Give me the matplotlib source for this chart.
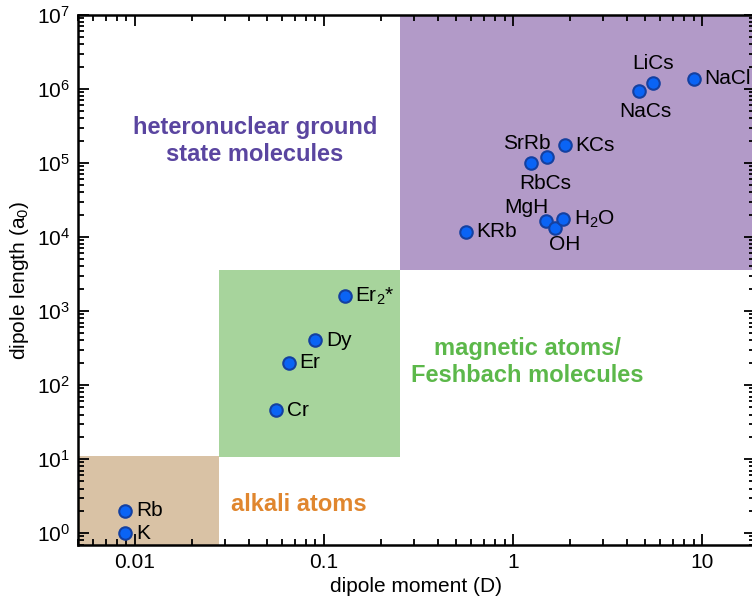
import numpy as np
import matplotlib
matplotlib.use("Agg")
import matplotlib.pyplot as plt
from matplotlib.patches import Rectangle

plt.rcParams['font.family'] = ['Liberation Sans', 'DejaVu Sans']
plt.rcParams['mathtext.fontset'] = 'custom'
plt.rcParams['mathtext.rm'] = 'Liberation Sans'
plt.rcParams['mathtext.it'] = 'Liberation Sans:italic'
plt.rcParams['mathtext.bf'] = 'Liberation Sans:bold'

# dados: momento de dipolo (D) e comprimento de dipolo (a0)
names = ['K', 'Rb', 'Cr', 'Er', 'Dy', 'Er$_2$*', 'KRb', 'MgH', 'OH', 'H$_2$O',
         'RbCs', 'SrRb', 'KCs', 'NaCs', 'LiCs', 'NaCl']
moment = [0.0089, 0.0089, 0.056, 0.065, 0.090, 0.129, 0.56, 1.50, 1.67, 1.84,
          1.25, 1.51, 1.88, 4.6, 5.5, 9.0]
length = [1.0, 2.0, 46, 200, 405, 1600, 11700, 16500, 13200, 17500,
          1.0e5, 1.2e5, 1.75e5, 9.4e5, 1.2e6, 1.37e6]

# regioes (x0, x1, y0, y1)
alkali_box = (0.005, 0.0278, 0.69, 11.0)
magnetic_box = (0.0278, 0.252, 10.5, 3560)
molecule_box = (0.252, 19, 3560, 1e7)

# posicao dos rotulos (deslocamento em pontos, alinhamento)
label_pos = {
    'MgH': ((1.5, 10), 'right', 'center'),
    'OH': ((6.5, -12), 'center', 'center'),
    'RbCs': ((10, -14.5), 'center', 'center'),
    'SrRb': ((2.5, 10), 'right', 'center'),
    'NaCs': ((5, -15), 'center', 'center'),
    'LiCs': ((0, 14.5), 'center', 'center'),
}

fig = plt.figure(figsize=(7.52, 6.03), dpi=100)
ax = fig.add_axes([78 / 752, 1 - 545 / 603, (755 - 78) / 752, (545 - 15) / 603])
ax.set_xscale('log')
ax.set_yscale('log')
ax.set_xlim(0.005, 19)
ax.set_ylim(0.69, 1e7)

for (x0, x1, y0, y1), cor in [(alkali_box, '#d9c2a5'),
                              (magnetic_box, '#a7d49c'),
                              (molecule_box, '#b29ac8')]:
    ax.add_patch(Rectangle((x0, y0), x1 - x0, y1 - y0, color=cor, lw=0, zorder=0))

ax.plot(moment, length, 'o', ms=9, mfc='#0a64f5', mec='#1440a0', mew=1.5,
        ls='none', zorder=3)

for n, x, y in zip(names, moment, length):
    off, ha, va = label_pos.get(n, ((7.5, 0), 'left', 'center'))
    ax.annotate(n, (x, y), xytext=off, textcoords='offset points',
                ha=ha, va=va, fontsize=15, zorder=4)

ax.text(0.0431, 2.0e5, 'heteronuclear ground\nstate molecules', color='#5a45a0',
        fontsize=17, fontweight='bold', ha='center', va='center', linespacing=1.2)
ax.text(1.19, 204, 'magnetic atoms/\nFeshbach molecules', color='#5cb84a',
        fontsize=17, fontweight='bold', ha='center', va='center', linespacing=1.2)
ax.text(0.0322, 2.46, 'alkali atoms', color='#e0862e',
        fontsize=17, fontweight='bold', ha='left', va='center')

ax.set_xticks([0.01, 0.1, 1, 10])
ax.set_xticklabels(['0.01', '0.1', '1', '10'])
ax.set_yticks([10.0 ** k for k in range(8)])
ax.tick_params(which='both', direction='in', top=True, right=True,
               labelsize=15, width=1.3)
ax.tick_params(which='major', length=8, pad=6)
ax.tick_params(which='minor', length=4.5)
for s in ax.spines.values():
    s.set_linewidth(1.8)

ax.set_xlabel('dipole moment (D)', fontsize=15, labelpad=3)
ax.set_ylabel('dipole length (a$_0$)', fontsize=15, labelpad=4)

fig.savefig('out.png', dpi=100)
